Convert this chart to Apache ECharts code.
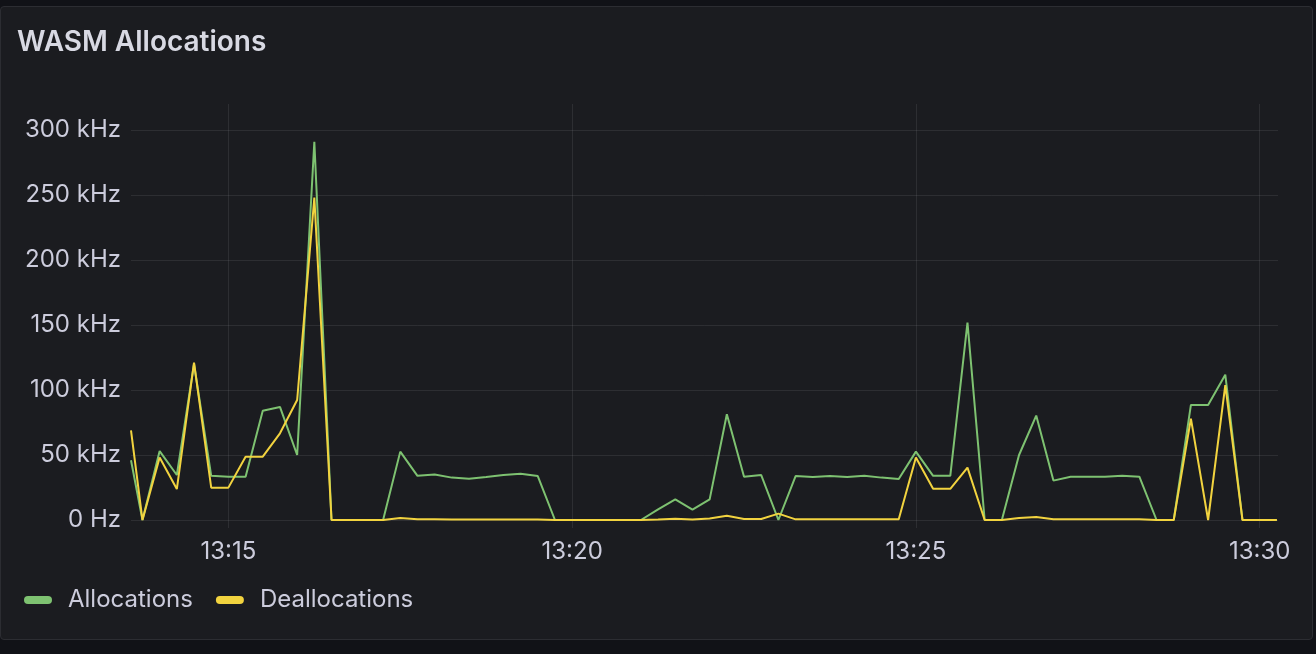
<!DOCTYPE html>
<html>
<head>
<meta charset="utf-8">
<script src="https://cdn.jsdelivr.net/npm/echarts@6/dist/echarts.min.js"></script>
<style>
  html, body { margin: 0; padding: 0; background: #111217; width: 1316px; height: 654px; overflow: hidden; }
  #panel { position: absolute; left: 0px; top: 6px; width: 1311px; height: 632px; background: #1b1c20; border: 1px solid #2c2d32; border-radius: 4px; }
  #chart { position: absolute; left: 0; top: 0; width: 1316px; height: 654px; }
</style>
</head>
<body>
<div id="panel"></div>
<div id="chart"></div>
<script>
// Sample times (HH:MM:SS)
const times = [
  "13:13:35","13:13:45","13:14:00","13:14:15","13:14:30","13:14:45","13:15:00","13:15:15","13:15:30","13:15:45",
  "13:16:00","13:16:15","13:16:30","13:16:45","13:17:00","13:17:15","13:17:30","13:17:45","13:18:00","13:18:15",
  "13:18:30","13:18:45","13:19:00","13:19:15","13:19:30","13:19:45","13:20:00","13:20:15","13:20:30","13:20:45",
  "13:21:00","13:21:15","13:21:30","13:21:45","13:22:00","13:22:15","13:22:30","13:22:45","13:23:00","13:23:15",
  "13:23:30","13:23:45","13:24:00","13:24:15","13:24:30","13:24:45","13:25:00","13:25:15","13:25:30","13:25:45",
  "13:26:00","13:26:15","13:26:30","13:26:45","13:27:00","13:27:15","13:27:30","13:27:45","13:28:00","13:28:15",
  "13:28:30","13:28:45","13:29:00","13:29:15","13:29:30","13:29:45","13:30:00","13:30:15"
];
// Values in kHz
const allocations = [
  46, 0, 53, 34.6, 120, 34, 33.3, 33.3, 84, 87,
  50, 291, 0, 0, 0, 0, 52.6, 34, 35, 32.6,
  31.8, 33, 34.6, 35.6, 33.8, 0, 0, 0, 0, 0,
  0, 8.2, 15.9, 7.9, 15.9, 81.3, 33.3, 34.6, 0, 33.8,
  33.1, 33.8, 33.1, 34, 32.6, 31.5, 52.6, 34, 34, 151.8,
  0, 0, 50, 80.3, 30.3, 33.3, 33.3, 33.3, 34, 33.3,
  0, 0, 88.5, 88.5, 111.8, 0, 0, 0
];
const deallocations = [
  69, 0, 48, 23.8, 121, 24.9, 24.9, 48.7, 48.7, 66.7,
  92.3, 248, 0, 0, 0, 0, 1.5, 0.5, 0.5, 0.4,
  0.4, 0.4, 0.4, 0.4, 0.4, 0, 0, 0, 0, 0,
  0, 0.3, 1, 0.3, 1.2, 3.3, 0.8, 0.8, 4.9, 0.5,
  0.5, 0.5, 0.5, 0.5, 0.5, 0.5, 48, 24, 24, 40.3,
  0, 0, 1.5, 2.3, 0.5, 0.5, 0.5, 0.5, 0.5, 0.5,
  0, 0, 78, 0, 103.8, 0, 0, 0
];
const xTickLabels = ["13:15", "13:20", "13:25", "13:30"];

function toSec(s) {
  const p = s.split(':').map(Number);
  return p[0] * 3600 + p[1] * 60 + (p[2] || 0);
}
function fmtTime(sec) {
  const h = Math.floor(sec / 3600), m = Math.floor((sec % 3600) / 60);
  return String(h).padStart(2, '0') + ':' + String(m).padStart(2, '0');
}
const xTickVals = xTickLabels.map(toSec);
const xMin = toSec("13:13:35");
const xMax = toSec("13:30:16");

const gridColor = 'rgba(204,204,220,0.10)';
const textColor = '#ccccdc';
const FONT = 'Inter, "Noto Sans", sans-serif';
const GREEN = '#7ec271';
const YELLOW = '#f2d33f';
const pillIcon = 'path://M4,0 H24 A4,4 0 0 1 24,8 H4 A4,4 0 0 1 4,0 Z';

const chart = echarts.init(document.getElementById('chart'), null, { renderer: 'canvas' });
chart.setOption({
  backgroundColor: 'transparent',
  animation: false,
  title: {
    text: 'WASM Allocations',
    left: 12, top: 24,
    textStyle: { color: '#d8d9e3', fontFamily: FONT, fontSize: 28, fontWeight: 600 }
  },
  legend: {
    left: 19, top: 583,
    icon: pillIcon,
    itemWidth: 28, itemHeight: 8,
    itemGap: 23,
    textStyle: { color: textColor, fontFamily: FONT, fontSize: 24, padding: [0, 0, 0, 11] },
    data: ['Allocations', 'Deallocations']
  },
  grid: { left: 131, right: 38, top: 130, bottom: 134, containLabel: false },
  xAxis: [{
    type: 'value',
    min: xMin, max: xMax,
    axisLine: { show: false },
    axisTick: { show: true, length: 8, lineStyle: { color: gridColor }, customValues: xTickVals },
    splitLine: { show: true, lineStyle: { color: gridColor, width: 1 } },
    axisLabel: {
      customValues: xTickVals,
      color: textColor, fontFamily: FONT, fontSize: 24, margin: 20,
      formatter: v => fmtTime(v)
    }
  }, {
    type: 'value',
    position: 'top',
    min: xMin, max: xMax,
    axisLine: { show: false },
    axisTick: { show: true, length: 26, lineStyle: { color: gridColor }, customValues: xTickVals },
    splitLine: { show: false },
    axisLabel: { show: false }
  }],
  yAxis: {
    type: 'value',
    min: 0, max: 300, interval: 50,
    axisLine: { show: false },
    axisTick: { show: false },
    splitLine: { show: true, lineStyle: { color: gridColor, width: 1 } },
    axisLabel: {
      color: textColor, fontFamily: FONT, fontSize: 24, margin: 10,
      formatter: v => v === 0 ? '0 Hz' : v + ' kHz'
    }
  },
  series: [{
    name: 'Allocations',
    type: 'line',
    xAxisIndex: 0,
    data: times.map((t, i) => [toSec(t), allocations[i]]),
    showSymbol: false,
    lineStyle: { color: GREEN, width: 2 },
    itemStyle: { color: GREEN }
  }, {
    name: 'Deallocations',
    type: 'line',
    xAxisIndex: 0,
    data: times.map((t, i) => [toSec(t), deallocations[i]]),
    showSymbol: false,
    lineStyle: { color: YELLOW, width: 2 },
    itemStyle: { color: YELLOW }
  }]
});
</script>
</body>
</html>
